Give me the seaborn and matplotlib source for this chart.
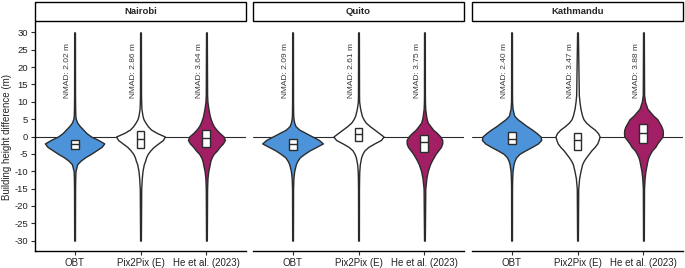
import numpy as np
import matplotlib
matplotlib.use("Agg")
import matplotlib.pyplot as plt
from matplotlib.patches import Rectangle
import seaborn as sns

# ---- data ----
cities = ["Nairobi", "Quito", "Kathmandu"]
methods = ["OBT", "Pix2Pix (E)", "He et al. (2023)"]
method_colors = ["#4d93d9", "#ffffff", "#a21f66"]

nmad = {
    "Nairobi": [2.02, 2.86, 3.64],
    "Quito": [2.09, 2.61, 3.75],
    "Kathmandu": [2.40, 3.47, 3.88],
}

# box stats per method: (q1, median, q3)
box_stats = {
    "Nairobi": [(-3.7, -2.2, -0.9), (-3.2, -0.7, 1.5), (-3.0, -0.4, 2.0)],
    "Quito": [(-3.8, -2.2, -0.7), (-1.2, 0.8, 2.4), (-4.5, -1.6, 0.3)],
    "Kathmandu": [(-2.3, -0.6, 1.2), (-3.8, -1.1, 1.0), (-1.8, 1.0, 3.5)],
}

# violin outline: half-width (x units) at each height level
y_levels = [30, 12, 10, 8, 6, 5, 4, 3, 2, 1, 0, -1, -2, -3, -4, -5, -6, -7, -8, -10, -12, -15, -30]
half_widths = {
    "Nairobi": [
        [0.006, 0.007, 0.008, 0.009, 0.012, 0.02, 0.04, 0.08, 0.13, 0.18, 0.25, 0.36, 0.45, 0.41, 0.33, 0.25, 0.16, 0.09, 0.04, 0.014, 0.01, 0.008, 0.006],
        [0.006, 0.008, 0.01, 0.014, 0.03, 0.045, 0.075, 0.11, 0.16, 0.25, 0.37, 0.34, 0.27, 0.20, 0.15, 0.11, 0.085, 0.07, 0.05, 0.03, 0.02, 0.011, 0.006],
        [0.006, 0.01, 0.015, 0.03, 0.05, 0.065, 0.085, 0.11, 0.15, 0.20, 0.26, 0.28, 0.25, 0.20, 0.16, 0.11, 0.08, 0.06, 0.05, 0.028, 0.016, 0.01, 0.006],
    ],
    "Quito": [
        [0.006, 0.007, 0.007, 0.008, 0.01, 0.015, 0.025, 0.045, 0.10, 0.20, 0.30, 0.40, 0.46, 0.36, 0.26, 0.18, 0.11, 0.075, 0.05, 0.025, 0.013, 0.008, 0.006],
        [0.006, 0.008, 0.01, 0.025, 0.05, 0.075, 0.11, 0.17, 0.24, 0.31, 0.38, 0.34, 0.24, 0.15, 0.09, 0.06, 0.04, 0.03, 0.02, 0.012, 0.009, 0.007, 0.006],
        [0.006, 0.007, 0.008, 0.012, 0.025, 0.035, 0.05, 0.09, 0.13, 0.19, 0.24, 0.27, 0.27, 0.25, 0.21, 0.17, 0.14, 0.11, 0.085, 0.05, 0.03, 0.013, 0.006],
    ],
    "Kathmandu": [
        [0.006, 0.007, 0.008, 0.015, 0.04, 0.09, 0.16, 0.23, 0.31, 0.38, 0.44, 0.45, 0.40, 0.31, 0.21, 0.12, 0.07, 0.045, 0.03, 0.015, 0.01, 0.007, 0.006],
        [0.006, 0.02, 0.03, 0.045, 0.07, 0.09, 0.13, 0.19, 0.26, 0.31, 0.335, 0.32, 0.30, 0.26, 0.21, 0.17, 0.13, 0.095, 0.07, 0.045, 0.025, 0.011, 0.006],
        [0.006, 0.01, 0.025, 0.06, 0.15, 0.21, 0.24, 0.27, 0.29, 0.295, 0.29, 0.25, 0.21, 0.18, 0.13, 0.10, 0.075, 0.06, 0.05, 0.03, 0.018, 0.009, 0.006],
    ],
}

y_ticks = list(range(-30, 31, 5))

# ---- style ----
sns.set_theme(style="ticks")
plt.rcParams["font.family"] = ["Liberation Sans", "DejaVu Sans"]

W, H = 685, 268
fig = plt.figure(figsize=(W / 100, H / 100), dpi=100)

edge = "#2b2b2b"
panel_left = [35, 253, 472]
panel_w = 211
top_px, bottom_px = 22, 251

for ci, city in enumerate(cities):
    ax = fig.add_axes([panel_left[ci] / W, (H - bottom_px) / H,
                       panel_w / W, (bottom_px - top_px) / H])
    ax.set_facecolor("white")
    ax.axhline(0, color=edge, lw=0.8, zorder=1)

    y = np.array(y_levels, dtype=float)
    for mi, method in enumerate(methods):
        hw = np.array(half_widths[city][mi])
        ax.fill_betweenx(y, mi - hw, mi + hw, facecolor=method_colors[mi],
                         edgecolor=edge, lw=1.0, zorder=2)
        q1, med, q3 = box_stats[city][mi]
        bw = 0.12
        ax.add_patch(Rectangle((mi - bw / 2, q1), bw, q3 - q1, facecolor="white",
                               edgecolor=edge, lw=1.0, zorder=3))
        ax.plot([mi - bw / 2, mi + bw / 2], [med, med], color=edge, lw=1.0, zorder=4)
        ax.text(mi - 0.1, 27, f"NMAD: {nmad[city][mi]:.2f} m", rotation=90,
                ha="center", va="top", fontsize=6, color="#3a3a3a", zorder=5)

    ax.set_xlim(-0.6, 2.6)
    ax.set_ylim(-33, 33)
    ax.set_xticks(range(len(methods)))
    ax.set_xticklabels(methods, fontsize=7, color="#222222")
    ax.tick_params(axis="x", length=3, width=0.8, color=edge, pad=2)
    ax.grid(False)

    if ci == 0:
        sns.despine(ax=ax)
        ax.set_yticks(y_ticks)
        ax.set_yticklabels([str(t) for t in y_ticks], fontsize=6.8, color="#222222")
        ax.tick_params(axis="y", length=3, width=0.8, color=edge, pad=2)
        ax.set_ylabel("Building height difference (m)", fontsize=7, labelpad=2)
        ax.spines["left"].set_linewidth(1.0)
        ax.spines["left"].set_color("black")
    else:
        sns.despine(ax=ax, left=True)
        ax.set_yticks([])
    ax.spines["bottom"].set_linewidth(1.0)
    ax.spines["bottom"].set_color("black")

    # facet strip
    strip = Rectangle((panel_left[ci] / W, (H - 21) / H), panel_w / W, 19 / H,
                      transform=fig.transFigure, facecolor="white",
                      edgecolor="black", lw=1.0)
    fig.patches.append(strip)
    fig.text((panel_left[ci] + panel_w / 2) / W, (H - 11.5) / H, city,
             ha="center", va="center", fontsize=6.8, fontweight="bold")

fig.savefig("out.png", dpi=100)
